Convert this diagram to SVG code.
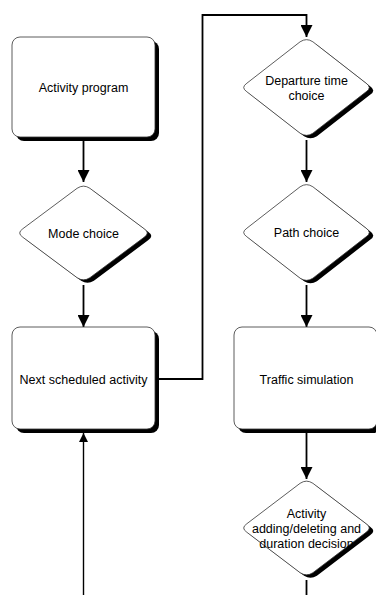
<svg xmlns="http://www.w3.org/2000/svg" width="376" height="595" viewBox="0 0 376 595">
<style>
.box{fill:#fff;stroke:#333;stroke-width:0.8}
.sh{fill:#000}
.t{font-family:"Liberation Sans",Arial,sans-serif;font-size:12.5px;fill:#000;text-anchor:middle}
.c{fill:none;stroke:#000;stroke-width:1.8}
</style>
<defs>
<marker id="ah" viewBox="0 0 12 12" refX="12" refY="6" markerWidth="12" markerHeight="12" markerUnits="userSpaceOnUse" orient="auto"><path d="M0,0 L12,6 L0,12 Z" fill="#000"/></marker>
<marker id="ahs" viewBox="0 0 10 10" refX="10" refY="5" markerWidth="9" markerHeight="10" markerUnits="userSpaceOnUse" orient="auto"><path d="M0,0 L10,5 L0,10 Z" fill="#000"/></marker>
</defs>
<g id="connectors">
<path class="c" d="M83.5,141 V182" marker-end="url(#ah)"/>
<path class="c" d="M83.5,285 V327" marker-end="url(#ah)"/>
<path class="c" d="M83.5,595 V433" style="stroke-width:1.4" marker-end="url(#ahs)"/>
<path class="c" d="M159,379 H202.5 V15 H306.5 V37" marker-end="url(#ah)"/>
<path class="c" d="M306.5,140 V182" marker-end="url(#ah)"/>
<path class="c" d="M306.5,285 V327" marker-end="url(#ah)"/>
<path class="c" d="M306.5,433 V479" marker-end="url(#ah)"/>
<path class="c" d="M306.5,580 V595"/>
</g>
<g id="activity-program">
<rect class="sh" x="16" y="41" width="143" height="100" rx="8"/>
<rect class="box" x="12" y="37" width="143" height="100" rx="8"/>
<text class="t" x="83.5" y="92">Activity program</text>
</g>
<g id="mode-choice">
<path class="sh" transform="translate(4,3)" d="M77.1,188.3 Q83.5,184 89.9,188.3 L144.1,228.7 Q150.5,233 144.1,237.3 L89.9,277.7 Q83.5,282 77.1,277.7 L22.9,237.3 Q16.5,233 22.9,228.7 Z"/>
<path class="box" d="M77.1,188.3 Q83.5,184 89.9,188.3 L144.1,228.7 Q150.5,233 144.1,237.3 L89.9,277.7 Q83.5,282 77.1,277.7 L22.9,237.3 Q16.5,233 22.9,228.7 Z"/>
<text class="t" x="83.5" y="237.5">Mode choice</text>
</g>
<g id="next-scheduled-activity">
<rect class="sh" x="16" y="331" width="143" height="102" rx="8"/>
<rect class="box" x="12" y="327" width="143" height="102" rx="8"/>
<text class="t" x="83.5" y="383.5">Next scheduled activity</text>
</g>
<g id="departure-time-choice">
<path class="sh" transform="translate(4,3)" d="M300.1,41.8 Q306.5,37.5 312.9,41.8 L366.1,83.2 Q372.5,87.5 366.1,91.8 L312.9,133.2 Q306.5,137.5 300.1,133.2 L246.9,91.8 Q240.5,87.5 246.9,83.2 Z"/>
<path class="box" d="M300.1,41.8 Q306.5,37.5 312.9,41.8 L366.1,83.2 Q372.5,87.5 366.1,91.8 L312.9,133.2 Q306.5,137.5 300.1,133.2 L246.9,91.8 Q240.5,87.5 246.9,83.2 Z"/>
<text class="t" x="306.5" y="84.5">Departure time</text>
<text class="t" x="306.5" y="99.5">choice</text>
</g>
<g id="path-choice">
<path class="sh" transform="translate(4,3)" d="M300.1,186.8 Q306.5,182.5 312.9,186.8 L366.1,228.2 Q372.5,232.5 366.1,236.8 L312.9,278.2 Q306.5,282.5 300.1,278.2 L246.9,236.8 Q240.5,232.5 246.9,228.2 Z"/>
<path class="box" d="M300.1,186.8 Q306.5,182.5 312.9,186.8 L366.1,228.2 Q372.5,232.5 366.1,236.8 L312.9,278.2 Q306.5,282.5 300.1,278.2 L246.9,236.8 Q240.5,232.5 246.9,228.2 Z"/>
<text class="t" x="306.5" y="237">Path choice</text>
</g>
<g id="traffic-simulation">
<rect class="sh" x="238" y="331" width="143" height="102" rx="8"/>
<rect class="box" x="234" y="327" width="143" height="102" rx="8"/>
<text class="t" x="306.5" y="383.5">Traffic simulation</text>
</g>
<g id="activity-decision">
<path class="sh" transform="translate(4,3)" d="M300.1,483.3 Q306.5,479 312.9,483.3 L366.1,523.7 Q372.5,528 366.1,532.3 L312.9,572.7 Q306.5,577 300.1,572.7 L246.9,532.3 Q240.5,528 246.9,523.7 Z"/>
<path class="box" d="M300.1,483.3 Q306.5,479 312.9,483.3 L366.1,523.7 Q372.5,528 366.1,532.3 L312.9,572.7 Q306.5,577 300.1,572.7 L246.9,532.3 Q240.5,528 246.9,523.7 Z"/>
<text class="t" x="306.5" y="517.5">Activity</text>
<text class="t" x="306.5" y="532.5">adding/deleting and</text>
<text class="t" x="306.5" y="547.5">duration decision</text>
</g>
</svg>
